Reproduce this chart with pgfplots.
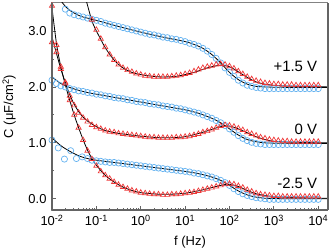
\documentclass[border=0pt]{standalone}
\usepackage{fontspec}
\setmainfont{Liberation Sans}
\usepackage{pgfplots}
\usepackage{pgfplotstable}
\pgfplotsset{compat=1.18}
\definecolor{cblue}{RGB}{100,178,240}
\definecolor{cred}{RGB}{238,55,55}
\definecolor{spine}{RGB}{100,100,100}

% +1.5 V
\pgfplotstableread{
L v
-1.7 3.39
-1.6 3.32
-1.5 3.29
-1.4 3.27
-1.3 3.25
-1.2 3.23
-1.1 3.21
-1.0 3.19
-0.9 3.17
-0.8 3.14
-0.7 3.12
-0.6 3.10
-0.5 3.08
-0.4 3.06
-0.3 3.04
-0.2 3.02
-0.1 3.00
0.0 2.98
0.1 2.96
0.2 2.94
0.3 2.93
0.4 2.91
0.5 2.89
0.6 2.88
0.7 2.86
0.8 2.85
0.9 2.83
1.0 2.81
1.1 2.78
1.2 2.76
1.3 2.73
1.4 2.69
1.5 2.64
1.6 2.58
1.7 2.51
1.8 2.43
1.9 2.34
2.0 2.26
2.1 2.19
2.2 2.12
2.3 2.07
2.4 2.03
2.5 2.01
2.6 1.99
2.7 1.98
2.8 1.97
2.9 1.97
3.0 1.97
3.1 1.97
3.2 1.97
3.3 1.97
3.4 1.97
3.5 1.97
3.6 1.97
3.7 1.97
3.8 1.97
3.9 1.97
4.0 1.97
}\bA
\pgfplotstableread{
L v
-1.78 3.52
-1.7 3.44
-1.6 3.37
-1.5 3.32
-1.4 3.28
-1.3 3.25
-1.2 3.23
-1.0 3.19
-0.5 3.08
0.0 2.98
0.5 2.89
1.0 2.81
1.2 2.76
1.4 2.69
1.6 2.58
1.8 2.43
2.0 2.26
2.2 2.13
2.4 2.05
2.6 2.01
2.8 2.00
3.0 1.995
3.5 1.99
4.22 1.99
}\fbA
\pgfplotstableread{
L v
-1.1 3.20
-1.0 3.02
-0.9 2.86
-0.8 2.71
-0.7 2.58
-0.6 2.48
-0.5 2.40
-0.4 2.34
-0.3 2.30
-0.2 2.27
-0.1 2.24
0.0 2.22
0.1 2.20
0.2 2.19
0.3 2.18
0.4 2.18
0.5 2.18
0.6 2.18
0.7 2.19
0.8 2.20
0.9 2.21
1.0 2.23
1.1 2.25
1.2 2.28
1.3 2.31
1.4 2.34
1.5 2.36
1.6 2.38
1.7 2.40
1.8 2.41
1.9 2.40
2.0 2.37
2.1 2.33
2.2 2.28
2.3 2.23
2.4 2.18
2.5 2.14
2.6 2.11
2.7 2.09
2.8 2.07
2.9 2.06
3.0 2.05
3.1 2.05
3.2 2.04
3.3 2.04
3.4 2.04
3.5 2.03
3.6 2.03
3.7 2.03
3.8 2.03
3.9 2.03
4.0 2.03
}\rA
\pgfplotstableread{
L v
-1.22 3.52
-1.1 3.18
-1.0 3.00
-0.9 2.85
-0.8 2.70
-0.6 2.48
-0.4 2.34
-0.2 2.26
0.0 2.22
0.4 2.18
0.8 2.19
1.2 2.26
1.5 2.34
1.8 2.39
2.0 2.36
2.2 2.27
2.4 2.17
2.6 2.09
2.8 2.05
3.0 2.03
3.5 2.01
4.22 2.00
}\frA

% 0 V
\pgfplotstableread{
L v
-2.0 2.12
-1.9 2.06
-1.8 2.02
-1.7 2.00
-1.6 1.97
-1.5 1.95
-1.4 1.93
-1.3 1.92
-1.2 1.90
-1.1 1.89
-1.0 1.87
-0.9 1.86
-0.8 1.84
-0.7 1.83
-0.6 1.81
-0.5 1.80
-0.4 1.79
-0.3 1.77
-0.2 1.76
-0.1 1.74
0.0 1.73
0.1 1.72
0.2 1.70
0.3 1.69
0.4 1.68
0.5 1.66
0.6 1.65
0.7 1.64
0.8 1.62
0.9 1.61
1.0 1.59
1.1 1.57
1.2 1.55
1.3 1.53
1.4 1.50
1.5 1.47
1.6 1.44
1.7 1.40
1.8 1.36
1.9 1.31
2.0 1.25
2.1 1.19
2.2 1.13
2.3 1.08
2.4 1.04
2.5 1.01
2.6 0.99
2.7 0.98
2.8 0.97
2.9 0.97
3.0 0.97
3.1 0.97
3.2 0.97
3.3 0.97
3.4 0.97
3.5 0.97
3.6 0.97
3.7 0.97
3.8 0.97
3.9 0.97
4.0 0.97
}\bB
\pgfplotstableread{
L v
-2.0 2.18
-1.8 2.06
-1.6 1.99
-1.4 1.94
-1.2 1.90
-1.0 1.87
-0.5 1.80
0.0 1.73
0.5 1.66
1.0 1.59
1.3 1.53
1.6 1.44
1.8 1.36
2.0 1.25
2.2 1.14
2.4 1.06
2.6 1.02
2.8 1.00
3.0 0.995
3.5 0.99
4.22 0.99
}\fbB
\pgfplotstableread{
L v
-2.0 2.80
-1.9 2.62
-1.8 2.32
-1.7 2.08
-1.6 1.84
-1.5 1.67
-1.4 1.54
-1.3 1.45
-1.2 1.38
-1.1 1.32
-1.0 1.28
-0.9 1.25
-0.8 1.22
-0.7 1.20
-0.6 1.19
-0.5 1.17
-0.4 1.16
-0.3 1.15
-0.2 1.14
-0.1 1.13
0.0 1.12
0.1 1.11
0.2 1.10
0.3 1.10
0.4 1.09
0.5 1.09
0.6 1.09
0.7 1.09
0.8 1.10
0.9 1.10
1.0 1.11
1.1 1.12
1.2 1.14
1.3 1.16
1.4 1.19
1.5 1.21
1.6 1.24
1.7 1.27
1.8 1.30
1.9 1.32
2.0 1.31
2.1 1.29
2.2 1.26
2.3 1.23
2.4 1.19
2.5 1.16
2.6 1.13
2.7 1.10
2.8 1.08
2.9 1.06
3.0 1.05
3.1 1.04
3.2 1.03
3.3 1.03
3.4 1.02
3.5 1.02
3.6 1.02
3.7 1.02
3.8 1.02
3.9 1.02
4.0 1.02
}\rB
\pgfplotstableread{
L v
-2.02 2.95
-1.9 2.60
-1.8 2.32
-1.7 2.08
-1.6 1.86
-1.5 1.69
-1.4 1.56
-1.3 1.46
-1.2 1.39
-1.0 1.29
-0.8 1.22
-0.5 1.17
0.0 1.12
0.5 1.09
1.0 1.11
1.4 1.19
1.8 1.29
2.0 1.30
2.2 1.25
2.4 1.18
2.6 1.11
2.8 1.06
3.0 1.03
3.5 1.01
4.22 1.00
}\frB

% -2.5 V
\pgfplotstableread{
L v
-2.0 1.05
-1.86 0.91
-1.72 0.71
-1.58 0.86
-1.45 0.72
-1.32 0.75
-1.2 0.72
-1.1 0.69
-1.0 0.68
-0.9 0.67
-0.8 0.66
-0.7 0.65
-0.6 0.65
-0.5 0.64
-0.4 0.63
-0.3 0.62
-0.2 0.61
-0.1 0.60
0.0 0.59
0.1 0.58
0.2 0.57
0.3 0.56
0.4 0.55
0.5 0.54
0.6 0.53
0.7 0.52
0.8 0.51
0.9 0.50
1.0 0.49
1.1 0.48
1.2 0.46
1.3 0.45
1.4 0.43
1.5 0.41
1.6 0.39
1.7 0.36
1.8 0.33
1.9 0.29
2.0 0.24
2.1 0.18
2.2 0.13
2.3 0.09
2.4 0.06
2.5 0.04
2.6 0.02
2.7 0.01
2.8 0.00
2.9 -0.01
3.0 -0.01
3.1 -0.01
3.2 -0.01
3.3 -0.01
3.4 -0.01
3.5 -0.01
3.6 -0.01
3.7 -0.01
3.8 -0.01
3.9 -0.01
4.0 -0.01
}\bC
\pgfplotstableread{
L v
-2.0 1.09
-1.8 0.95
-1.6 0.85
-1.4 0.77
-1.2 0.72
-1.0 0.69
-0.5 0.64
0.0 0.59
0.5 0.54
1.0 0.49
1.3 0.45
1.6 0.39
1.8 0.33
2.0 0.24
2.2 0.14
2.4 0.07
2.6 0.03
2.8 0.01
3.0 0.005
3.5 0.0
4.22 0.0
}\fbC
\pgfplotstableread{
L v
-2.0 3.45
-1.9 2.75
-1.8 2.36
-1.7 2.06
-1.6 1.76
-1.5 1.50
-1.4 1.27
-1.3 1.05
-1.2 0.86
-1.1 0.71
-1.0 0.59
-0.9 0.49
-0.8 0.42
-0.7 0.36
-0.6 0.30
-0.5 0.25
-0.4 0.21
-0.3 0.18
-0.2 0.15
-0.1 0.13
0.0 0.11
0.1 0.10
0.2 0.09
0.3 0.08
0.4 0.08
0.5 0.07
0.6 0.07
0.7 0.08
0.8 0.08
0.9 0.09
1.0 0.10
1.1 0.11
1.2 0.12
1.3 0.14
1.4 0.16
1.5 0.18
1.6 0.20
1.7 0.22
1.8 0.24
1.9 0.26
2.0 0.27
2.1 0.26
2.2 0.23
2.3 0.20
2.4 0.16
2.5 0.13
2.6 0.10
2.7 0.08
2.8 0.07
2.9 0.06
3.0 0.05
3.1 0.05
3.2 0.04
3.3 0.04
3.4 0.04
3.5 0.04
3.6 0.04
3.7 0.04
3.8 0.04
3.9 0.04
4.0 0.04
}\rC
\pgfplotstableread{
L v
-2.02 3.55
-1.9 2.78
-1.8 2.36
-1.7 2.04
-1.6 1.76
-1.5 1.50
-1.4 1.27
-1.3 1.06
-1.2 0.87
-1.1 0.72
-1.0 0.60
-0.8 0.42
-0.6 0.30
-0.4 0.21
-0.2 0.15
0.0 0.11
0.5 0.08
1.0 0.10
1.4 0.16
1.8 0.24
2.0 0.26
2.2 0.22
2.4 0.15
2.6 0.09
2.8 0.06
3.0 0.04
3.5 0.02
4.22 0.01
}\frC

\begin{document}
\begin{tikzpicture}
\useasboundingbox (-52bp,-40bp) rectangle (279bp,210bp);
\begin{axis}[
  scale only axis, width=276bp, height=207bp,
  at={(0,0)}, anchor=south west,
  xmin=-2, xmax=4.22, ymin=-0.2, ymax=3.5,
  xtick={-2,-1,0,1,2,3,4},
  xticklabels={10\textsuperscript{-2},10\textsuperscript{-1},10\textsuperscript{0},10\textsuperscript{1},10\textsuperscript{2},10\textsuperscript{3},10\textsuperscript{4}},
  minor xtick={-1.699,-1.523,-1.398,-1.301,-1.222,-1.155,-1.097,-1.046,
    -0.699,-0.523,-0.398,-0.301,-0.222,-0.155,-0.097,-0.046,
    0.301,0.477,0.602,0.699,0.778,0.845,0.903,0.954,
    1.301,1.477,1.602,1.699,1.778,1.845,1.903,1.954,
    2.301,2.477,2.602,2.699,2.778,2.845,2.903,2.954,
    3.301,3.477,3.602,3.699,3.778,3.845,3.903,3.954},
  ytick={0,1,2,3}, yticklabels={0.0,1.0,2.0,3.0},
  minor ytick={0.5,1.5,2.5},
  tick align=inside, tick pos=left,
  major tick length=4.5bp, minor tick length=2.5bp,
  every tick/.style={spine, line width=0.8bp},
  axis line style={draw=spine!80, line width=1bp},
  ticklabel style={font=\fontsize{13}{13}\selectfont},
  xticklabel style={yshift=-1.5bp},
  yticklabel style={xshift=-2bp},
  label style={font=\fontsize{13}{13}\selectfont},
  xlabel={f (Hz)},
  ylabel={C (μF/cm\textsuperscript{2})},
  xlabel style={at={(axis description cs:0.5,-0.155)}, anchor=center},
  ylabel style={at={(axis description cs:-0.155,0.5)}, anchor=center},
  after end axis/.code={
    \draw[spine, line width=2.4bp] (rel axis cs:0,1) -- (rel axis cs:0,0);
    \draw[spine, line width=2bp] (rel axis cs:0,0) -- (rel axis cs:1,0);
    \draw[spine, line width=1.5bp] (rel axis cs:1,0) -- (rel axis cs:1,1);
  },
]
\addplot[only marks, mark=o, mark size=3.1bp, cblue, mark options={line width=0.7bp}] table[x=L,y=v] {\bA};
\addplot[only marks, mark=o, mark size=3.1bp, cblue, mark options={line width=0.7bp}] table[x=L,y=v] {\bB};
\addplot[only marks, mark=o, mark size=3.1bp, cblue, mark options={line width=0.7bp}] table[x=L,y=v] {\bC};
\addplot[only marks, mark=triangle, mark size=3bp, cred, mark options={line width=0.7bp}] table[x=L,y=v] {\rA};
\addplot[only marks, mark=triangle, mark size=3bp, cred, mark options={line width=0.7bp}] table[x=L,y=v] {\rB};
\addplot[only marks, mark=triangle, mark size=3bp, cred, mark options={line width=0.7bp}] table[x=L,y=v] {\rC};
\addplot[black, line width=0.8bp, smooth, no marks] table[x=L,y=v] {\fbA};
\addplot[black, line width=0.8bp, smooth, no marks] table[x=L,y=v] {\frA};
\addplot[black, line width=0.8bp, smooth, no marks] table[x=L,y=v] {\fbB};
\addplot[black, line width=0.8bp, smooth, no marks] table[x=L,y=v] {\frB};
\addplot[black, line width=0.8bp, smooth, no marks] table[x=L,y=v] {\fbC};
\addplot[black, line width=0.8bp, smooth, no marks] table[x=L,y=v] {\frC};
\node[anchor=east, font=\fontsize{15}{15}\selectfont, inner sep=0pt] at (axis cs:3.98,2.375) {+1.5 V};
\node[anchor=east, font=\fontsize{15}{15}\selectfont, inner sep=0pt] at (axis cs:3.98,1.25) {0 V};
\node[anchor=east, font=\fontsize{15}{15}\selectfont, inner sep=0pt] at (axis cs:3.98,0.27) {-2.5 V};
\end{axis}
\end{tikzpicture}
\end{document}
